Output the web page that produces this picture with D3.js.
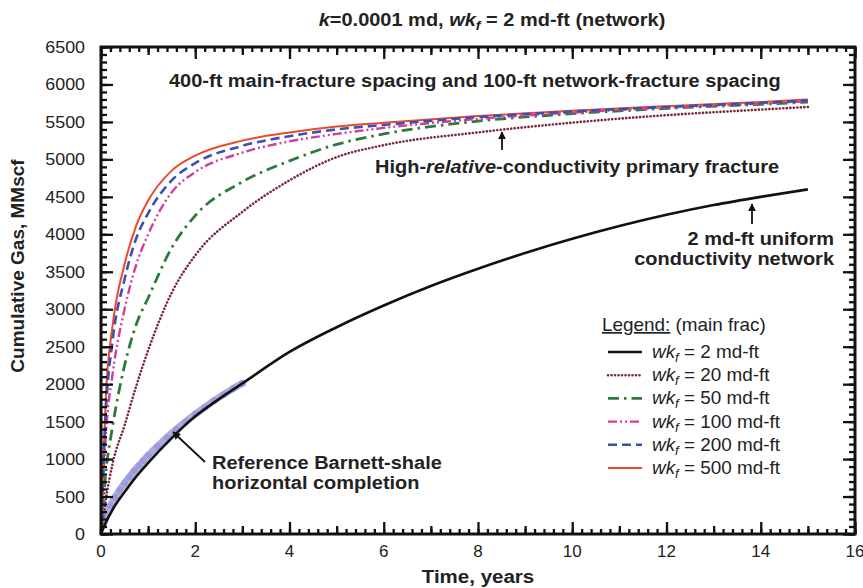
<!DOCTYPE html>
<html><head><meta charset="utf-8">
<script src="https://cdn.jsdelivr.net/npm/d3@7"></script>
<style>
body{margin:0;background:#fff}
svg{display:block}
text{font-family:"Liberation Sans",Arial,Helvetica,sans-serif;fill:#222}
</style>
</head><body>
<svg id="chart" width="863" height="588"></svg>
<script>
// ---------------- DATA ----------------
const xTickLabels = [0, 2, 4, 6, 8, 10, 12, 14, 16];
const yTickLabels = [0, 500, 1000, 1500, 2000, 2500, 3000, 3500, 4000, 4500, 5000, 5500, 6000, 6500];

// uniform 2 md-ft network (black)
const timesBlack = [0, 0.1, 0.25, 0.5, 0.75, 1, 1.5, 2, 2.5, 3, 4, 5, 6, 7, 8, 9, 10, 11, 12, 13, 14, 15];
const wk2 = [0, 150, 330, 560, 770, 950, 1280, 1570, 1800, 2010, 2430, 2760, 3050, 3310, 3540, 3750, 3940, 4110, 4260, 4390, 4500, 4600];

// high-conductivity main fracture cases
const timesMain = [0, 0.1, 0.25, 0.5, 0.75, 1, 1.5, 2, 3, 4, 5, 6, 8, 10, 12, 14, 15];
const wk20  = [0, 450, 950, 1450, 1980, 2450, 3220, 3720, 4300, 4720, 5030, 5190, 5360, 5490, 5590, 5665, 5700];
const wk50  = [0, 800, 1450, 2250, 2800, 3150, 3820, 4250, 4700, 4980, 5200, 5340, 5510, 5610, 5680, 5735, 5765];
const wk100 = [0, 1300, 2150, 3000, 3600, 4000, 4560, 4830, 5090, 5240, 5340, 5420, 5540, 5625, 5690, 5745, 5775];
const wk200 = [0, 1600, 2600, 3400, 3950, 4280, 4720, 4950, 5180, 5310, 5400, 5460, 5565, 5640, 5700, 5755, 5785];
const wk500 = [0, 1800, 2800, 3600, 4120, 4450, 4850, 5050, 5250, 5360, 5440, 5490, 5580, 5650, 5710, 5765, 5800];

// reference Barnett-shale horizontal completion (data band)
const timesRef = [0.05, 0.1, 0.2, 0.3, 0.4, 0.5, 0.6, 0.7, 0.8, 0.9, 1.0, 1.2, 1.4, 1.6, 1.8, 2.0, 2.2, 2.4, 2.6, 2.8, 3.0];
const refGas   = [130, 230, 380, 490, 590, 680, 760, 840, 910, 980, 1050, 1170, 1290, 1400, 1500, 1600, 1690, 1780, 1860, 1940, 2010];

const legendLabels = ["2", "20", "50", "100", "200", "500"];

// ---------------- LAYOUT ----------------
const svg = d3.select("#chart");
const x = d3.scaleLinear().domain([0, 16]).range([101, 855]);
const y = d3.scaleLinear().domain([0, 6500]).range([534, 47]);
const SX = 1.08;

function txt(g, px, py, size, weight, anchor, stretch) {
  return g.append("text")
    .attr("transform", `translate(${px},${py}) scale(${stretch || 1},1)`)
    .attr("font-size", size).attr("font-weight", weight || "normal")
    .attr("text-anchor", anchor || "start");
}

svg.append("defs").append("marker")
  .attr("id", "arr").attr("viewBox", "0 0 10 10").attr("refX", 9).attr("refY", 5)
  .attr("markerWidth", 8).attr("markerHeight", 8).attr("orient", "auto-start-reverse")
  .attr("markerUnits", "userSpaceOnUse")
  .append("path").attr("d", "M0,0 L10,5 L0,10 z").attr("fill", "#111");

// ---------------- CURVES ----------------
const plot = svg.append("g");
const lineGen = d3.line().x(d => x(d[0])).y(d => y(d[1])).curve(d3.curveMonotoneX);

plot.append("path").datum(d3.zip(timesRef, refGas))
  .attr("d", lineGen).attr("fill", "none").attr("stroke", "#a2a4dc")
  .attr("stroke-width", 7).attr("stroke-linecap", "round").attr("opacity", 0.9);
plot.selectAll("circle.ref").data(d3.zip(timesRef, refGas)).join("circle")
  .attr("class", "ref")
  .attr("cx", d => x(d[0])).attr("cy", d => y(d[1])).attr("r", 3.4)
  .attr("fill", "#8d8fcf").attr("opacity", 0.55);

const series = [
  {vals: wk2,   t: timesBlack, color: "#111111", dash: null,            w: 2.6, cap: "butt"},
  {vals: wk20,  t: timesMain,  color: "#7a2a3a", dash: "0.1,3.4",       w: 2.6, cap: "round"},
  {vals: wk50,  t: timesMain,  color: "#2f7a3a", dash: "11,5,2.5,5",    w: 2.8, cap: "butt"},
  {vals: wk100, t: timesMain,  color: "#d43c9c", dash: "9,3,2,3,2,3",   w: 2.4, cap: "butt"},
  {vals: wk200, t: timesMain,  color: "#3d4fb3", dash: "9,5",           w: 2.6, cap: "butt"},
  {vals: wk500, t: timesMain,  color: "#ea4a2a", dash: null,            w: 2.0, cap: "butt"}
];
[0, 1, 2, 3, 5, 4].forEach(i => {
  const s = series[i];
  plot.append("path").datum(d3.zip(s.t, s.vals))
    .attr("d", lineGen).attr("fill", "none").attr("stroke", s.color)
    .attr("stroke-width", s.w).attr("stroke-linecap", s.cap)
    .attr("stroke-dasharray", s.dash);
});

// ---------------- FRAME & TICKS (d3 axes, inward) ----------------
const xMinor = d3.range(0, 16.001, 0.2);
const xMid = d3.range(1, 16, 2);
const yMinor = d3.range(0, 6500.1, 100);

function tickAxis(gen, tr) {
  svg.append("g").attr("transform", tr).call(gen)
    .call(g => {
      g.select(".domain").remove();
      g.selectAll("text").remove();
      g.selectAll("line").attr("stroke", "#111").attr("stroke-width", 2.3);
    });
}
[[xMinor, 5], [xMid, 8], [xTickLabels, 12]].forEach(([vals, len]) => {
  tickAxis(d3.axisBottom(x).tickValues(vals).tickSize(-len), `translate(0,${y(0)})`);
  tickAxis(d3.axisTop(x).tickValues(vals).tickSize(-len), `translate(0,${y(6500)})`);
});
[[yMinor, 6], [yTickLabels, 12]].forEach(([vals, len]) => {
  tickAxis(d3.axisLeft(y).tickValues(vals).tickSize(-len), `translate(${x(0)},0)`);
  tickAxis(d3.axisRight(y).tickValues(vals).tickSize(-len), `translate(${x(16)},0)`);
});
svg.append("rect").attr("x", x(0)).attr("y", y(6500)).attr("width", x(16) - x(0)).attr("height", y(0) - y(6500))
  .attr("fill", "none").attr("stroke", "#111").attr("stroke-width", 3);

xTickLabels.forEach(v => txt(svg, x(v), 557, 17, "normal", "middle").text(v));
yTickLabels.forEach(v => txt(svg, 85, y(v) + 6, 17, "normal", "end", 1.05).text(v));

// ---------------- TEXT ----------------
const tt = txt(svg, 492, 26, 18.5, "bold", "middle", SX);
tt.append("tspan").attr("font-style", "italic").text("k");
tt.append("tspan").text("=0.0001 md, ");
tt.append("tspan").attr("font-style", "italic").text("wk");
tt.append("tspan").attr("font-style", "italic").attr("font-size", "70%").attr("dy", 4).text("f");
tt.append("tspan").attr("dy", -4).text(" = 2 md-ft (network)");

txt(svg, 478, 583, 19, "bold", "middle", SX).text("Time, years");
svg.append("text").attr("transform", "translate(24,266) rotate(-90)")
  .attr("font-size", 19).attr("font-weight", "bold").attr("text-anchor", "middle")
  .text("Cumulative Gas, MMscf");

txt(svg, 169, 87, 18.5, "bold", "start", SX).text("400-ft main-fracture spacing and 100-ft network-fracture spacing");

const hr = txt(svg, 375, 173, 18.5, "bold", "start", SX);
hr.append("tspan").text("High-");
hr.append("tspan").attr("font-style", "italic").text("relative");
hr.append("tspan").text("-conductivity primary fracture");
svg.append("line").attr("x1", 502).attr("y1", 150).attr("x2", 502).attr("y2", 132)
  .attr("stroke", "#111").attr("stroke-width", 1.8).attr("marker-end", "url(#arr)");

txt(svg, 834, 245, 18.5, "bold", "end", SX).text("2 md-ft uniform");
txt(svg, 834, 265, 18.5, "bold", "end", SX).text("conductivity network");
svg.append("line").attr("x1", 752).attr("y1", 224).attr("x2", 752).attr("y2", 204)
  .attr("stroke", "#111").attr("stroke-width", 1.8).attr("marker-end", "url(#arr)");

txt(svg, 212, 469, 18.5, "bold", "start", SX).text("Reference Barnett-shale");
txt(svg, 212, 489, 18.5, "bold", "start", SX).text("horizontal completion");
svg.append("line").attr("x1", 205).attr("y1", 462).attr("x2", 173).attr("y2", 432)
  .attr("stroke", "#111").attr("stroke-width", 1.8).attr("marker-end", "url(#arr)");

// ---------------- LEGEND ----------------
const lg = svg.append("g");
lg.append("rect").attr("x", 600).attr("y", 340).attr("width", 210).attr("height", 140).attr("fill", "#fff");
const lt = txt(lg, 602, 331, 17.5, "normal", "start", SX);
lt.append("tspan").attr("text-decoration", "underline").text("Legend:");
lt.append("tspan").text(" (main frac)");
const rowY = d3.scaleLinear().domain([0, 5]).range([352, 468]);
legendLabels.forEach((lab, i) => {
  const s = series[i];
  const yy = rowY(i);
  lg.append("line").attr("x1", 608).attr("x2", 642).attr("y1", yy).attr("y2", yy)
    .attr("stroke", s.color).attr("stroke-width", s.w).attr("stroke-linecap", s.cap)
    .attr("stroke-dasharray", s.dash);
  const t = txt(lg, 652, yy + 6, 17.5, "normal", "start", SX);
  t.append("tspan").attr("font-style", "italic").text("wk");
  t.append("tspan").attr("font-style", "italic").attr("font-size", "70%").attr("dy", 4).text("f");
  t.append("tspan").attr("dy", -4).text(` = ${lab} md-ft`);
});
</script>
</body></html>
